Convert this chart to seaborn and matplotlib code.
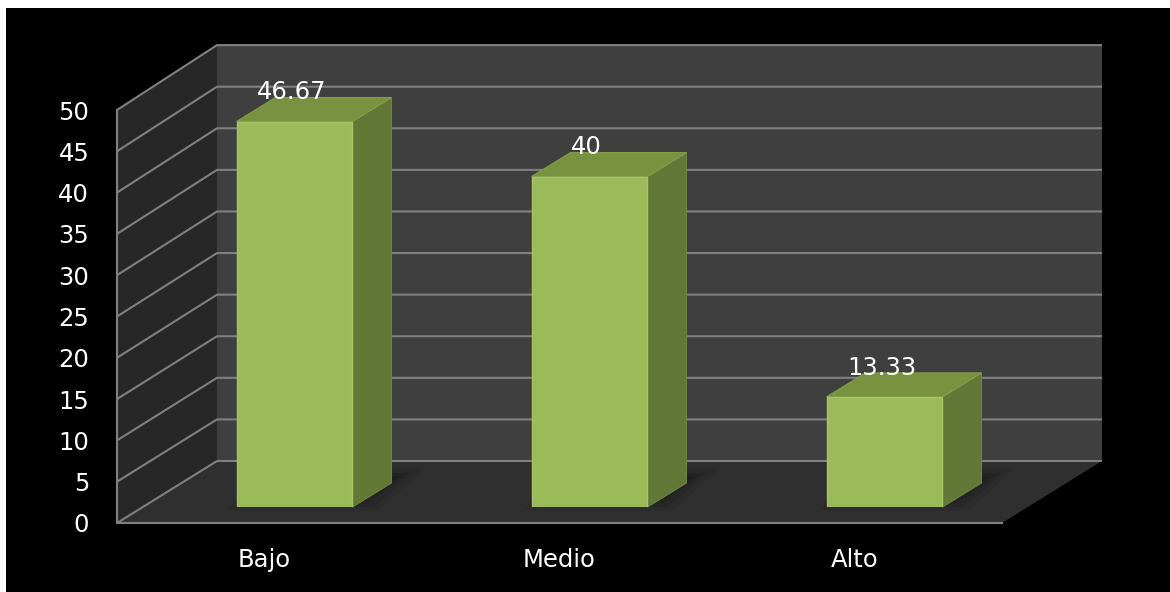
import matplotlib
matplotlib.use("Agg")
import matplotlib.pyplot as plt
import seaborn as sns
import pandas as pd
from matplotlib.patches import Polygon, Rectangle

# --- data -------------------------------------------------------------
categories = ["Bajo", "Medio", "Alto"]
values = [46.67, 40, 13.33]
y_ticks = [0, 5, 10, 15, 20, 25, 30, 35, 40, 45, 50]

# --- styling ----------------------------------------------------------
W, H, DPI = 1170, 592, 100
BAR_FRONT = "#9bbb59"
BAR_SIDE = "#637837"
BAR_TOP = "#78923f"
WALL_BACK = "#3f3f3f"
WALL_LEFT = "#272727"
FLOOR = "#2f2f2f"
GRID = "#808080"
FS = 17.5

sns.set_theme(style="white")
plt.rcParams["font.family"] = ["DejaVu Sans"]

fig = plt.figure(figsize=(W / DPI, H / DPI), dpi=DPI, facecolor="white")
fig.add_artist(Rectangle((6 / W, 0), 1 - 6 / W, 1 - 8 / H,
                         transform=fig.transFigure, facecolor="black",
                         edgecolor="none", zorder=-5))

# front plane of the 3D box
ax = fig.add_axes([117 / W, 69 / H, 885 / W, 413 / H])
ax.set_xlim(-0.5, 2.5)
ax.set_ylim(0, 50)
ax.patch.set_visible(False)

# depth of the box, expressed in data units of the front plane
px_x = 885 / 3.0
px_y = 413 / 50.0
dxu = 100 / px_x
dyu = 62 / px_y
bs = 1.007  # slight perspective growth on the back wall

x0, x1 = -0.5, 2.5
ax.add_patch(Polygon([(x0, 0), (x0, 50), (x0 + dxu, 50 * bs + dyu), (x0 + dxu, dyu)],
                     closed=True, facecolor=WALL_LEFT, edgecolor="none",
                     clip_on=False, zorder=0))
ax.add_patch(Polygon([(x0 + dxu, dyu), (x0 + dxu, 50 * bs + dyu),
                      (x1 + dxu, 50 * bs + dyu), (x1 + dxu, dyu)],
                     closed=True, facecolor=WALL_BACK, edgecolor="none",
                     clip_on=False, zorder=0))
ax.add_patch(Polygon([(x0, 0), (x1, 0), (x1 + dxu, dyu), (x0 + dxu, dyu)],
                     closed=True, facecolor=FLOOR, edgecolor="none",
                     clip_on=False, zorder=0))

for v in y_ticks:
    ax.plot([x0, x0 + dxu, x1 + dxu], [v, v * bs + dyu, v * bs + dyu],
            color=GRID, lw=1.5, clip_on=False, zorder=1,
            solid_capstyle="butt")

for side in ["top", "right"]:
    ax.spines[side].set_visible(False)
for side in ["left", "bottom"]:
    ax.spines[side].set_color(GRID)
    ax.spines[side].set_linewidth(1.5)
    ax.spines[side].set_zorder(2)

ax.set_yticks(y_ticks)
ax.set_yticklabels([str(t) for t in y_ticks])
ax.tick_params(axis="y", direction="out", length=6.5, width=1.5, color=GRID,
               labelcolor="white", labelsize=FS, pad=13.5)
ax.set_xticks([-0.5, 0.5, 1.5, 2.5])
ax.set_xticklabels([])
ax.set_xticks([0, 1, 2], minor=True)
ax.set_xticklabels(categories, minor=True)
ax.tick_params(axis="x", which="major", direction="out", length=6, width=1.5,
               color=GRID)
ax.tick_params(axis="x", which="minor", length=0, labelcolor="white",
               labelsize=FS, pad=18)
ax.set_xlabel("")
ax.set_ylabel("")

# plane in which the bars stand (slightly behind the front edge)
ax_b = fig.add_axes([(117 + 30) / W, (69 + 16) / H, 885 / W, 413 / H])
df = pd.DataFrame({"nivel": categories, "valor": values})
sns.barplot(data=df, x="nivel", y="valor", ax=ax_b, color=BAR_FRONT,
            saturation=1, width=0.393, edgecolor="#a6c466", linewidth=1)
ax_b.set_xlim(-0.5, 2.5)
ax_b.set_ylim(0, 50)
ax_b.axis("off")

bdx = 39 / px_x
bdy = 24 / px_y
for p, v in zip(ax_b.patches, values):
    bx, bw, bh = p.get_x(), p.get_width(), p.get_height()
    p.set_zorder(3)
    # soft shadow of the bar footprint on the floor
    for grow, a in [(0.06, 0.06), (0.04, 0.08), (0.02, 0.10), (0.0, 0.14)]:
        gy = grow * 20
        ox, oy = 0.03, 0.8
        ax_b.add_patch(Polygon([(bx - grow + ox, -gy + oy),
                                (bx + bw + grow + ox, -gy + oy),
                                (bx + bw + bdx + grow * 1.5 + ox, bdy + gy + oy),
                                (bx + bdx - grow + ox, bdy + gy + oy)],
                               closed=True, facecolor="black", edgecolor="none",
                               alpha=a, clip_on=False, zorder=1))
    ax_b.add_patch(Polygon([(bx + bw, 0), (bx + bw, bh), (bx + bw + bdx, bh + bdy),
                            (bx + bw + bdx, bdy)], closed=True, facecolor=BAR_SIDE,
                           edgecolor="#6d8440", lw=0.8, clip_on=False, zorder=2))
    ax_b.add_patch(Polygon([(bx, bh), (bx + bw, bh), (bx + bw + bdx, bh + bdy),
                            (bx + bdx, bh + bdy)], closed=True, facecolor=BAR_TOP,
                           edgecolor="#84a04a", lw=0.8, clip_on=False, zorder=2))
    ax_b.annotate(f"{v:g}", xy=(bx + bw / 2, bh), xytext=(-2, 21),
                  textcoords="offset points", ha="center", va="center",
                  color="white", fontsize=FS, zorder=5, annotation_clip=False)

fig.savefig("out.png", dpi=DPI, facecolor=fig.get_facecolor())
